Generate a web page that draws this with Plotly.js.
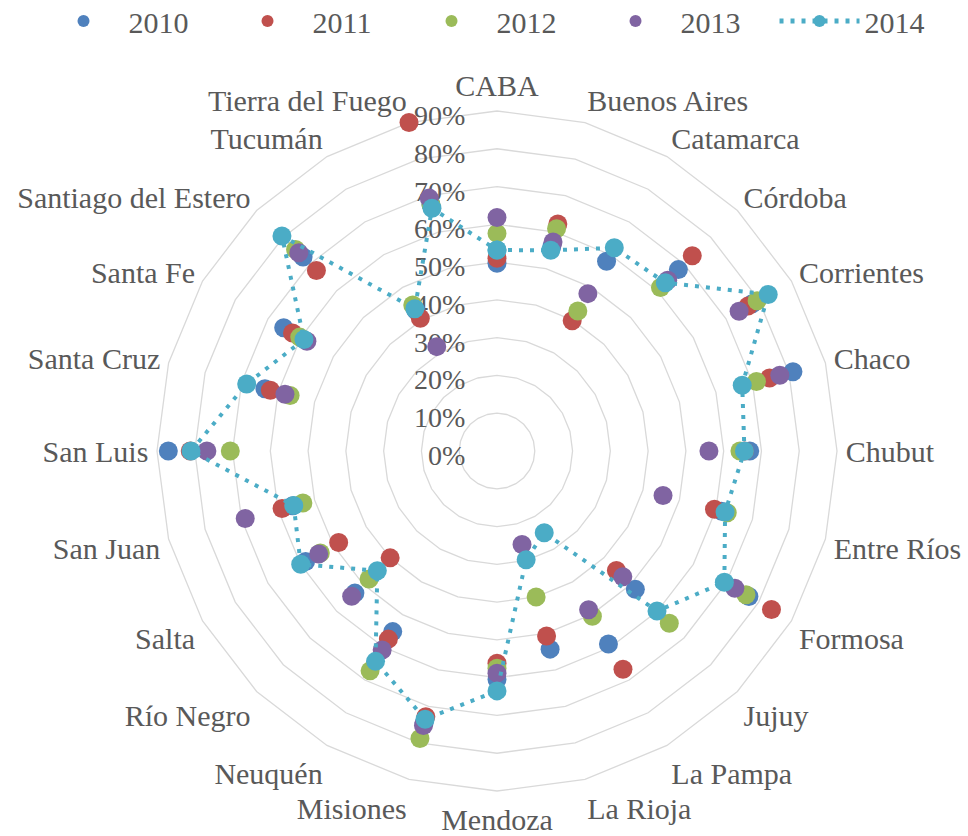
<!DOCTYPE html>
<html><head><meta charset="utf-8">
<script src="https://cdn.plot.ly/plotly-3.0.1.min.js"></script>
<style>html,body{margin:0;padding:0;background:#fff}#chart{width:968px;height:836px}</style>
</head><body><div id="chart"></div>
<script>
const provinces = ['CABA','Buenos Aires','Catamarca','Córdoba','Corrientes','Chaco','Chubut','Entre Ríos','Formosa','Jujuy','La Pampa','La Rioja','Mendoza','Misiones','Neuquén','Río Negro','Salta','San Juan','San Luis','Santa Cruz','Santa Fe','Santiago del Estero','Tucumán','Tierra del Fuego'];
const years = ['2010','2011','2012','2013','2014'];
const v2010 = [0.497,0.56,0.58,0.679,0.78,0.811,0.669,0.615,0.77,0.518,0.59,0.543,0.605,0.745,0.552,0.532,0.585,0.56,0.87,0.636,0.652,0.726,0.43,0.675];
const v2011 = [0.51,0.622,0.398,0.731,0.767,0.747,0.655,0.596,0.839,0.447,0.667,0.507,0.562,0.728,0.575,0.40,0.484,0.589,0.812,0.621,0.625,0.676,0.406,0.90];
const v2012 = [0.576,0.609,0.428,0.612,0.795,0.711,0.643,0.631,0.761,0.645,0.505,0.40,0.575,0.788,0.672,0.479,0.54,0.532,0.706,0.567,0.603,0.754,0.446,0.675];
const v2013 = [0.618,0.573,0.481,0.639,0.74,0.775,0.561,0.455,0.727,0.471,0.485,0.256,0.588,0.752,0.608,0.544,0.545,0.69,0.768,0.581,0.581,0.742,0.319,0.693];
const v2014 = [0.532,0.55,0.621,0.63,0.829,0.672,0.655,0.625,0.695,0.599,0.25,0.298,0.635,0.735,0.643,0.448,0.60,0.557,0.81,0.686,0.59,0.805,0.435,0.665];
const colors = ['#4F81BD','#C0504D','#9BBB59','#8064A2','#4BACC6'];
const series = [v2010, v2011, v2012, v2013, v2014];
const txtColor = '#595959';
const fontFam = 'Liberation Serif';

const traces = series.map((vals, i) => {
  const isLine = i === series.length - 1;
  return {
    type: 'scatterpolar',
    name: years[i],
    r: isLine ? vals.concat([vals[0]]) : vals,
    theta: isLine ? provinces.concat([provinces[0]]) : provinces,
    mode: isLine ? 'lines+markers' : 'markers',
    marker: {color: colors[i], size: 19},
    line: {color: colors[i], width: 4, dash: '4px,7px'},
    cliponaxis: false,
    hoverinfo: 'name+theta+r'
  };
});

const layout = {
  width: 968, height: 836,
  margin: {l: 0, r: 0, t: 0, b: 0, autoexpand: false},
  paper_bgcolor: '#fff',
  font: {family: fontFam, color: txtColor},
  showlegend: true,
  legend: {orientation: 'h', x: 0.515, xanchor: 'center', y: 1.006, yanchor: 'top',
    font: {family: fontFam, size: 30, color: txtColor}, itemsizing: 'constant',
    itemwidth: 80, entrywidth: 89, entrywidthmode: 'pixels'},
  polar: {
    domain: {x: [157/968, 837/968], y: [45/836, 725/836]},
    gridshape: 'linear',
    bgcolor: 'rgba(0,0,0,0)',
    radialaxis: {range: [0, 0.9], dtick: 0.1, tickformat: '.0%', angle: 90,
      side: 'counterclockwise', showline: false, ticks: 'outside', ticklen: 6,
      tickcolor: 'rgba(0,0,0,0)', layer: 'below traces',
      gridcolor: '#D9D9D9', gridwidth: 1.3,
      tickfont: {family: fontFam, size: 28, color: txtColor}},
    angularaxis: {rotation: 90, direction: 'clockwise', type: 'category',
      showgrid: false, showline: true, linecolor: '#D9D9D9', linewidth: 1.3,
      ticks: 'outside', ticklen: 2, tickcolor: 'rgba(0,0,0,0)', layer: 'below traces',
      tickfont: {family: fontFam, size: 30, color: txtColor}}
  }
};

Plotly.newPlot('chart', traces, layout, {displayModeBar: false, staticPlot: true});
</script>
</body></html>
